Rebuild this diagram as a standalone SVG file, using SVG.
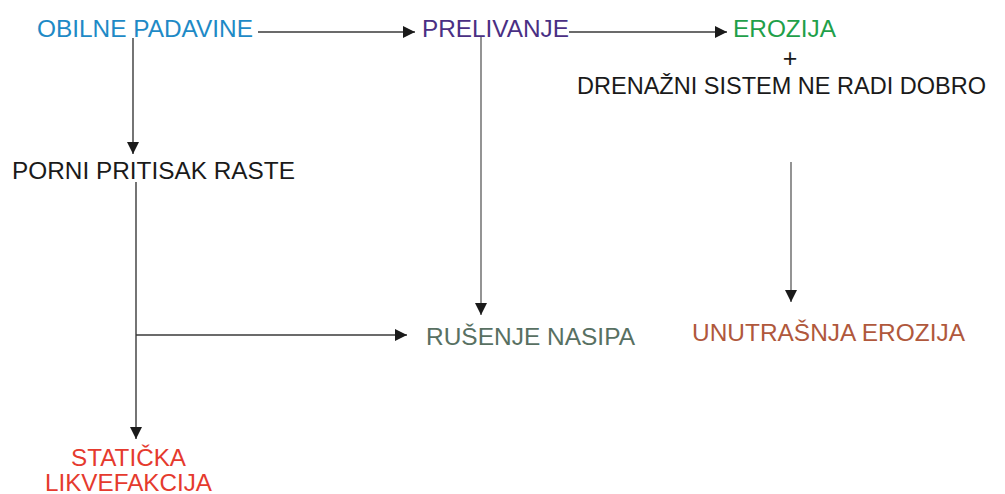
<svg xmlns="http://www.w3.org/2000/svg" width="1005" height="494" viewBox="0 0 1005 494">
  <style>
    text { font-family: "Liberation Sans", Arial, sans-serif; font-size: 23.5px; }
    .blue { fill: #1e8ac6; }
    .purple { fill: #4a2f84; }
    .green { fill: #1fa04a; }
    .dark { fill: #1a1a1a; }
    .slate { fill: #587062; }
    .brown { fill: #b0583c; }
    .red { fill: #e53a2e; }
    .link { fill: none; stroke: #3a3a3a; stroke-width: 1.4; }
    .link.soft { stroke: #666; }
  </style>
  <defs>
    <marker id="head" markerUnits="userSpaceOnUse" markerWidth="13" markerHeight="12" refX="12" refY="6" orient="auto">
      <path d="M0,0 L12,6 L0,12 Z" fill="#1a1a1a"/>
    </marker>
  </defs>

  <g id="connectors">
    <path class="link" d="M258,32 H415" marker-end="url(#head)"/>
    <path class="link" d="M569,32 H727" marker-end="url(#head)"/>
    <path class="link" d="M133,38 V154" marker-end="url(#head)"/>
    <path class="link" d="M136,182 V439" marker-end="url(#head)"/>
    <path class="link" d="M136,335 H407" marker-end="url(#head)"/>
    <path class="link soft" d="M481,37 V315" marker-end="url(#head)"/>
    <path class="link soft" d="M791,162 V302" marker-end="url(#head)"/>
  </g>

  <g id="obilne-padavine">
    <text class="blue" x="37" y="37" textLength="216" lengthAdjust="spacingAndGlyphs">OBILNE PADAVINE</text>
  </g>
  <g id="prelivanje">
    <text class="purple" x="422" y="37" textLength="147" lengthAdjust="spacingAndGlyphs">PRELIVANJE</text>
  </g>
  <g id="erozija-drenaza">
    <text class="green" x="733" y="37" textLength="103" lengthAdjust="spacingAndGlyphs">EROZIJA</text>
    <text class="dark" x="790" y="67" text-anchor="middle" style="font-size:25px">+</text>
    <text class="dark" x="577" y="94" textLength="409" lengthAdjust="spacingAndGlyphs">DRENAŽNI SISTEM NE RADI DOBRO</text>
  </g>
  <g id="porni-pritisak">
    <text class="dark" x="12" y="179" textLength="283" lengthAdjust="spacingAndGlyphs">PORNI PRITISAK RASTE</text>
  </g>
  <g id="rusenje-nasipa">
    <text class="slate" x="426" y="345" textLength="209" lengthAdjust="spacingAndGlyphs">RUŠENJE NASIPA</text>
  </g>
  <g id="unutrasnja-erozija">
    <text class="brown" x="692" y="341" textLength="273" lengthAdjust="spacingAndGlyphs">UNUTRAŠNJA EROZIJA</text>
  </g>
  <g id="staticka-likvefakcija">
    <text class="red" x="71" y="466" textLength="115" lengthAdjust="spacingAndGlyphs">STATIČKA</text>
    <text class="red" x="45" y="491" textLength="167" lengthAdjust="spacingAndGlyphs">LIKVEFAKCIJA</text>
  </g>
</svg>
